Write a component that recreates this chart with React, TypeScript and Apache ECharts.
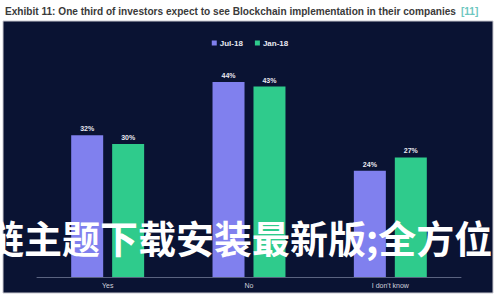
import React, { useEffect, useRef } from "react";
import * as echarts from "echarts";

const categories = ["Yes", "No", "I don't know"];
const jul18 = [32, 44, 24];
const jan18 = [30, 43, 27];
const seriesNames = ["Jul-18", "Jan-18"];
const titleText = "Exhibit 11: One third of investors expect to see Blockchain implementation in their companies";
const refText = "[11]";
const watermark = "链主题下载安装最新版;全方位";

export default function App() {
  const ref = useRef<HTMLDivElement>(null);
  useEffect(() => {
    const chart = echarts.init(ref.current!, null, { renderer: "svg" });
    const labelCfg = {
      show: true,
      position: "top" as const,
      distance: 3,
      color: "#e8e8f0",
      fontSize: 7,
      fontWeight: "bold" as const,
      formatter: "{c}%",
    };
    chart.setOption({
      animation: false,
      backgroundColor: "#ffffff",
      title: {
        text: "{m|" + titleText + "} {r|" + refText + "}",
        left: 0,
        top: -3,
        textStyle: {
          rich: {
            m: { fontSize: 10.1, fontWeight: "bold", color: "#3a3a3a", fontFamily: "Liberation Sans" },
            r: { fontSize: 10.1, color: "#6cc7c0", fontFamily: "Liberation Sans" },
          },
        },
      },
      graphic: [
        {
          type: "rect",
          z: -10,
          shape: { x: 3, y: 21, width: 490, height: 272 },
          style: { fill: "#0a1333", stroke: "#c8c8d0", lineWidth: 1 },
        },
        {
          type: "text",
          z: 100,
          x: -14,
          y: 236,
          style: {
            text: watermark,
            fill: "#ffffff",
            fontSize: 38,
            fontWeight: "bold",
            fontFamily: "Noto Sans CJK SC",
            verticalAlign: "middle",
          },
        },
      ],
      legend: {
        top: 34,
        left: "center",
        itemWidth: 5,
        itemHeight: 5,
        itemGap: 12,
        icon: "rect",
        textStyle: { color: "#e8e8f0", fontSize: 8, fontWeight: "bold", padding: [0, 0, 0, -2] },
        data: seriesNames,
      },
      grid: { left: 37, right: 39, top: 55.5, bottom: 23 },
      xAxis: {
        type: "category",
        data: categories,
        axisLine: { lineStyle: { color: "#5a6380", width: 1 } },
        axisTick: { show: false },
        axisLabel: { color: "#d0d0dc", fontSize: 7, margin: 5 },
      },
      yAxis: {
        type: "value",
        min: 0,
        max: 50,
        show: false,
        splitLine: { show: false },
      },
      series: [
        {
          name: seriesNames[0],
          type: "bar",
          data: jul18,
          barWidth: 32,
          barGap: "28%",
          itemStyle: { color: "#8080ee" },
          label: labelCfg,
        },
        {
          name: seriesNames[1],
          type: "bar",
          data: jan18,
          barWidth: 32,
          itemStyle: { color: "#2fcb8c" },
          label: labelCfg,
        },
      ],
    });
    return () => chart.dispose();
  }, []);
  return <div ref={ref} style={{ width: 500, height: 300, position: "absolute", left: 0, top: 0 }} />;
}
